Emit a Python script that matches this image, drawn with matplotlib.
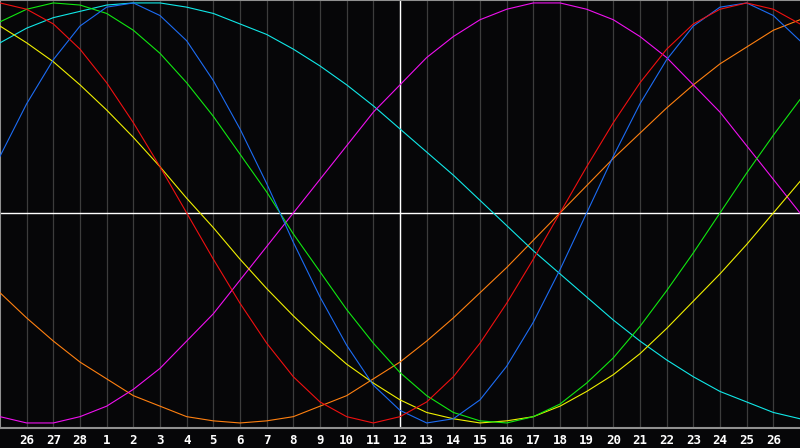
import matplotlib
matplotlib.use('Agg')
import matplotlib.pyplot as plt
import numpy as np

# one value per day (day 0 = left edge, day 30 = right edge)
days = list(range(31))

red = [1.00, 0.97, 0.90, 0.78, 0.62, 0.43, 0.22, 0.00, -0.22, -0.43, -0.62,
       -0.78, -0.90, -0.97, -1.00, -0.97, -0.90, -0.78, -0.62, -0.43, -0.22,
       0.00, 0.22, 0.43, 0.62, 0.78, 0.90, 0.97, 1.00, 0.97, 0.90]
blue = [0.27, 0.52, 0.73, 0.89, 0.98, 1.00, 0.94, 0.82, 0.63, 0.40, 0.14,
        -0.14, -0.40, -0.63, -0.82, -0.94, -1.00, -0.98, -0.89, -0.73, -0.52,
        -0.27, 0.00, 0.27, 0.52, 0.73, 0.89, 0.98, 1.00, 0.94, 0.82]
green = [0.91, 0.97, 1.00, 0.99, 0.95, 0.87, 0.76, 0.62, 0.46, 0.28, 0.10,
         -0.10, -0.28, -0.46, -0.62, -0.76, -0.87, -0.95, -0.99, -1.00, -0.97,
         -0.91, -0.81, -0.69, -0.54, -0.37, -0.19, 0.00, 0.19, 0.37, 0.54]
yellow = [0.89, 0.81, 0.72, 0.61, 0.49, 0.36, 0.22, 0.07, -0.07, -0.22, -0.36,
          -0.49, -0.61, -0.72, -0.81, -0.89, -0.95, -0.98, -1.00, -0.99, -0.97,
          -0.92, -0.85, -0.77, -0.67, -0.55, -0.42, -0.29, -0.15, 0.00, 0.15]
magenta = [-0.97, -1.00, -1.00, -0.97, -0.92, -0.84, -0.74, -0.61, -0.48, -0.32, -0.16,
           0.00, 0.16, 0.32, 0.48, 0.61, 0.74, 0.84, 0.92, 0.97, 1.00,
           1.00, 0.97, 0.92, 0.84, 0.74, 0.61, 0.48, 0.32, 0.16, 0.00]
cyan = [0.81, 0.88, 0.93, 0.96, 0.99, 1.00, 1.00, 0.98, 0.95, 0.90, 0.85,
        0.78, 0.70, 0.61, 0.51, 0.40, 0.29, 0.18, 0.06, -0.06, -0.18,
        -0.29, -0.40, -0.51, -0.61, -0.70, -0.78, -0.85, -0.90, -0.95, -0.98]
orange = [-0.38, -0.50, -0.61, -0.71, -0.79, -0.87, -0.92, -0.97, -0.99, -1.00, -0.99,
          -0.97, -0.92, -0.87, -0.79, -0.71, -0.61, -0.50, -0.38, -0.26, -0.13,
          0.00, 0.13, 0.26, 0.38, 0.50, 0.61, 0.71, 0.79, 0.87, 0.92]

tick_days = list(range(1, 30))
tick_labels = ['26', '27', '28'] + [str(i) for i in range(1, 27)]

BG = '#060608'
fig = plt.figure(figsize=(8, 4.48), dpi=100, facecolor=BG)
ax = fig.add_axes([0, 20 / 448, 1, 428 / 448], facecolor=BG)

for d in tick_days:
    ax.axvline(d, color='#3c3c3c', lw=0.9, zorder=1)
ax.axvline(15, color='white', lw=1.0, zorder=2)
ax.axhline(0, color='white', lw=1.0, zorder=2)

series = [
    (orange, '#ff8010'),
    (cyan, '#10e8e8'),
    (magenta, '#f010f0'),
    (yellow, '#f0f000'),
    (green, '#10e810'),
    (blue, '#1c6cf4'),
    (red, '#f01010'),
]
for vals, col in series:
    ax.plot(days, vals, color=col, lw=0.8, zorder=3)

ax.set_xlim(0, 30)
ax.set_ylim(-1.024, 1.014)

for side in ['top', 'left', 'bottom']:
    ax.spines[side].set_color('#909090')
    ax.spines[side].set_linewidth(1.5)
ax.spines['right'].set_visible(False)

ax.set_xticks(tick_days)
ax.set_xticklabels(tick_labels, color='white', fontsize=9, fontweight='bold',
                   family='DejaVu Sans Mono')
ax.tick_params(axis='x', length=0, pad=4)
ax.set_yticks([])

fig.savefig('out.png', dpi=100, facecolor=BG)
